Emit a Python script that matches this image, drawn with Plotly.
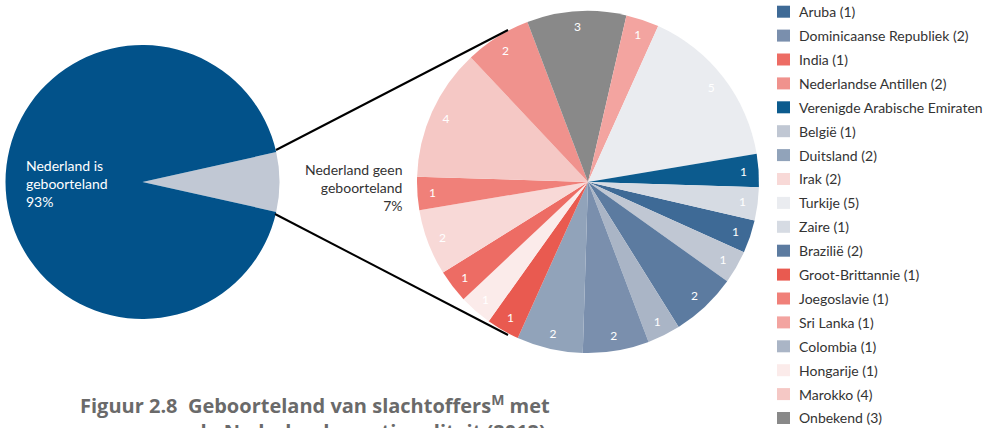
import plotly.graph_objects as go

# ---------------- data ----------------
main_labels = ["Nederland geen geboorteland", "Nederland is geboorteland"]
main_values = [7, 93]
main_colors = ["#c1c8d4", "#02528a"]

countries = ["Aruba", "België", "Brazilië", "Colombia", "Dominicaanse Republiek",
             "Duitsland", "Groot-Brittannie", "Hongarije", "India", "Irak",
             "Joegoslavie", "Marokko", "Nederlandse Antillen", "Onbekend",
             "Sri Lanka", "Turkije", "Verenigde Arabische Emiraten", "Zaire"]
counts = [1, 1, 2, 1, 2, 2, 1, 1, 1, 2, 1, 4, 2, 3, 1, 5, 1, 1]
country_colors = ["#3e6a96", "#c0c7d3", "#5c7ba0", "#aab5c6", "#7a8fad",
                  "#91a3ba", "#e95a50", "#fbebea", "#ed6c64", "#f8d9d7",
                  "#f08079", "#f5c8c5", "#f0928d", "#898989",
                  "#f3a4a0", "#eaecf0", "#0c5b8e", "#d6dbe3"]

legend_order = ["Aruba", "Dominicaanse Republiek", "India", "Nederlandse Antillen",
                "Verenigde Arabische Emiraten", "België", "Duitsland", "Irak",
                "Turkije", "Zaire", "Brazilië", "Groot-Brittannie", "Joegoslavie",
                "Sri Lanka", "Colombia", "Hongarije", "Marokko", "Onbekend"]
legend_no_count = ["Verenigde Arabische Emiraten"]

title_line1 = "Figuur 2.8\u00a0\u00a0Geboorteland van slachtoffers<sup>M</sup> met"
title_line2 = "de Nederlandse nationaliteit (2012)"

# ---------------- layout helpers ----------------
W, H = 989, 428
FONT = "Lato"
TITLE_FONT = "Open Sans"


def px(x):
    return x / W


def py(y):
    return 1 - y / H


fig = go.Figure()

# left pie
fig.add_trace(go.Pie(
    labels=main_labels, values=main_values, sort=False, direction="clockwise",
    rotation=77.4, marker=dict(colors=main_colors, line=dict(width=0)),
    textinfo="none", hoverinfo="skip", showlegend=False,
    domain=dict(x=[px(5.5), px(279.5)], y=[py(319), py(45)]),
))

# right pie
right_domain = dict(x=[px(417), px(759)], y=[py(353), py(11)])
fig.add_trace(go.Pie(
    labels=countries, values=counts, sort=False, direction="clockwise",
    rotation=103, marker=dict(colors=country_colors, line=dict(width=0)),
    textinfo="none", hoverinfo="skip", showlegend=False,
    domain=right_domain,
))
# transparent ring carrying the value labels near the outer edge
fig.add_trace(go.Pie(
    labels=countries, values=counts, sort=False, direction="clockwise",
    rotation=103, hole=0.82,
    marker=dict(colors=["rgba(0,0,0,0)"] * len(countries), line=dict(width=0)),
    textinfo="value", textposition="inside", insidetextorientation="horizontal",
    textfont=dict(family=FONT, size=12, color="white"),
    hoverinfo="skip", showlegend=False,
    domain=right_domain,
))

shapes = []
annotations = []

# connector lines
shapes.append(dict(type="line", xref="paper", yref="paper",
                   x0=px(276), y0=py(150), x1=px(508), y1=py(30),
                   line=dict(color="black", width=2)))
shapes.append(dict(type="line", xref="paper", yref="paper",
                   x0=px(275), y0=py(214), x1=px(508), y1=py(335),
                   line=dict(color="black", width=2)))

# pie labels
annotations.append(dict(
    text="Nederland is<br>geboorteland<br>93%", xref="paper", yref="paper",
    x=px(24), y=py(183), xanchor="left", yanchor="middle", align="left",
    showarrow=False, font=dict(family=FONT, size=14, color="white")))
annotations.append(dict(
    text="Nederland geen<br>geboorteland<br>7%", xref="paper", yref="paper",
    x=px(404), y=py(187), xanchor="right", yanchor="middle", align="right",
    showarrow=False, font=dict(family=FONT, size=14, color="#333333")))

# manual legend
color_of = dict(zip(countries, country_colors))
count_of = dict(zip(countries, counts))
for i, name in enumerate(legend_order):
    yc = 11.7 + 23.9 * i
    shapes.append(dict(type="rect", xref="paper", yref="paper",
                       x0=px(777), x1=px(790), y0=py(yc + 6), y1=py(yc - 6),
                       fillcolor=color_of[name], line=dict(width=0)))
    label = name if name in legend_no_count else f"{name} ({count_of[name]})"
    annotations.append(dict(
        text=label, xref="paper", yref="paper", x=px(797), y=py(yc),
        xanchor="left", yanchor="middle", showarrow=False,
        font=dict(family=FONT, size=14, color="#333333")))

# caption (second line is cut off by the bottom edge, as in the source)
annotations.append(dict(
    text="<b>" + title_line1 + "</b>", xref="paper", yref="paper",
    x=px(78), y=py(404), xanchor="left", yanchor="middle", showarrow=False,
    font=dict(family=TITLE_FONT, size=20, color="#6a6a6a")))
annotations.append(dict(
    text="<b>" + title_line2 + "</b>", xref="paper", yref="paper",
    x=px(192), y=py(432), xanchor="left", yanchor="middle", showarrow=False,
    font=dict(family=TITLE_FONT, size=20, color="#6a6a6a")))

fig.update_layout(
    width=W, height=H, margin=dict(l=0, r=0, t=0, b=0),
    paper_bgcolor="white", plot_bgcolor="white",
    shapes=shapes, annotations=annotations,
    font=dict(family=FONT),
)

fig.write_html("out.html", config={"displayModeBar": False},
               post_script="document.body.style.margin='0';")
